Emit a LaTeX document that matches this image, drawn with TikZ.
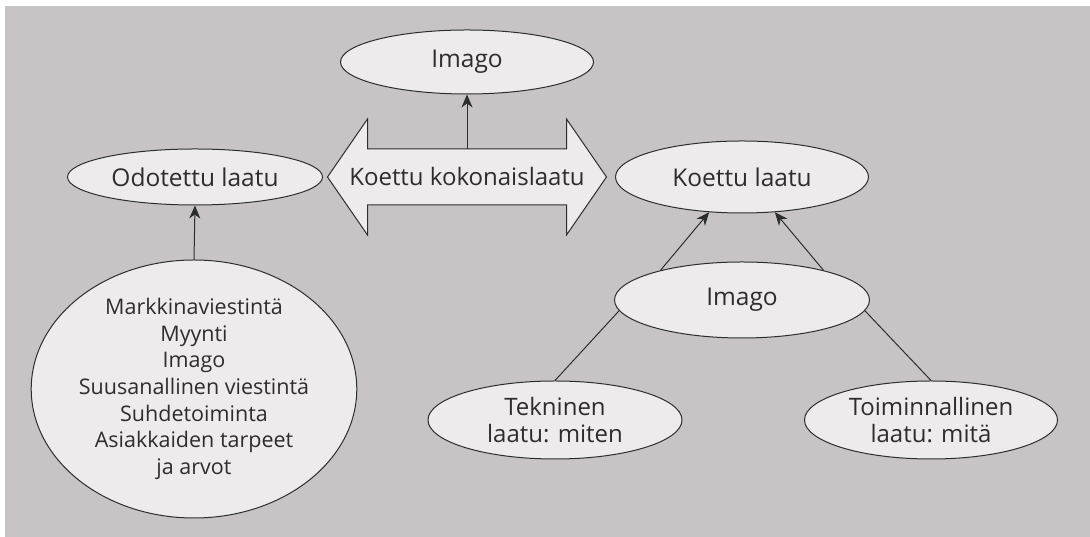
\documentclass[tikz,border=0pt]{standalone}
\usepackage{fontspec}
\setmainfont{Open Sans}
\usetikzlibrary{arrows.meta,shapes,positioning}
\definecolor{pagegrey}{RGB}{200,196,198}
\definecolor{ovalfill}{RGB}{238,235,236}
\definecolor{inkgrey}{RGB}{45,45,45}
\tikzstyle{oval}=[draw=inkgrey,fill=ovalfill,ellipse,inner sep=0,
                  minimum width=253pt,minimum height=64pt,text=inkgrey,
                  font=\fontsize{24.5}{26}\selectfont,align=center]
\tikzstyle{hit}=[-{Stealth[length=13pt,width=11pt,inset=4pt]}]
\tikzstyle{aS}=[every edge/.style={draw=inkgrey,line width=1pt,hit}]
\tikzstyle{plain}=[every edge/.style={draw=inkgrey,line width=1pt,-}]
\begin{document}
\begin{tikzpicture}[x=1pt,y=1pt,line width=1pt]
\fill[white] (0,0) rectangle (1090,537);
\fill[pagegrey] (5,0) rectangle (1090,531);
\path[use as bounding box] (0,0) rectangle (1090,537);

\node[oval] (imtop) at (467,475) {Imago};
\node[oval,minimum height=56pt,minimum width=255pt] (odot) at (195,360) {Odotettu laatu};
\node[oval,minimum width=297pt,minimum height=258pt,
      font=\fontsize{21.5}{26.7}\selectfont] (src) at (194,148)
{Markkinaviestintä\\Myynti\\Imago\\Suusanallinen viestintä\\Suhdetoiminta\\Asiakkaiden tarpeet\\ja arvot};
\node[oval,minimum height=72pt] (koet) at (742,360) {Koettu laatu};
\node[oval,minimum width=255pt,minimum height=76pt] (immid) at (742,237) {Imago};
\node[oval,minimum width=254pt,minimum height=78pt,
      font=\fontsize{24}{27}\selectfont] (tekn) at (555,117) {Tekninen\\laatu: miten};
\node[oval,minimum height=78pt,
      font=\fontsize{24}{27}\selectfont] (toim) at (931,117) {Toiminnallinen\\laatu: mitä};

% total quality double arrow
\node[minimum width=198pt,minimum height=55pt,inner sep=0] (kok) at (467,360) {};
\draw[draw=inkgrey,fill=ovalfill,line join=miter]
  (kok.north west) -- (kok.north east) -- ++(0,30) -- ([xshift=40pt]kok.east)
  -- ([yshift=-30pt]kok.south east) -- (kok.south east) -- (kok.south west)
  -- ++(0,-30) -- ([xshift=-40pt]kok.west) -- ([yshift=30pt]kok.north west) -- cycle;
\node[text=inkgrey,font=\fontsize{24}{26}\selectfont] at (kok) {Koettu kokonaislaatu};

\path[aS]
(kok.north) edge (imtop.south)
(src.north) edge (odot.south)
(immid.160) edge (koet.227)
(immid.20) edge (koet.313)
;
\path[plain]
(immid.185) edge (tekn.north)
(immid.355) edge (toim.north)
;
\end{tikzpicture}
\end{document}
